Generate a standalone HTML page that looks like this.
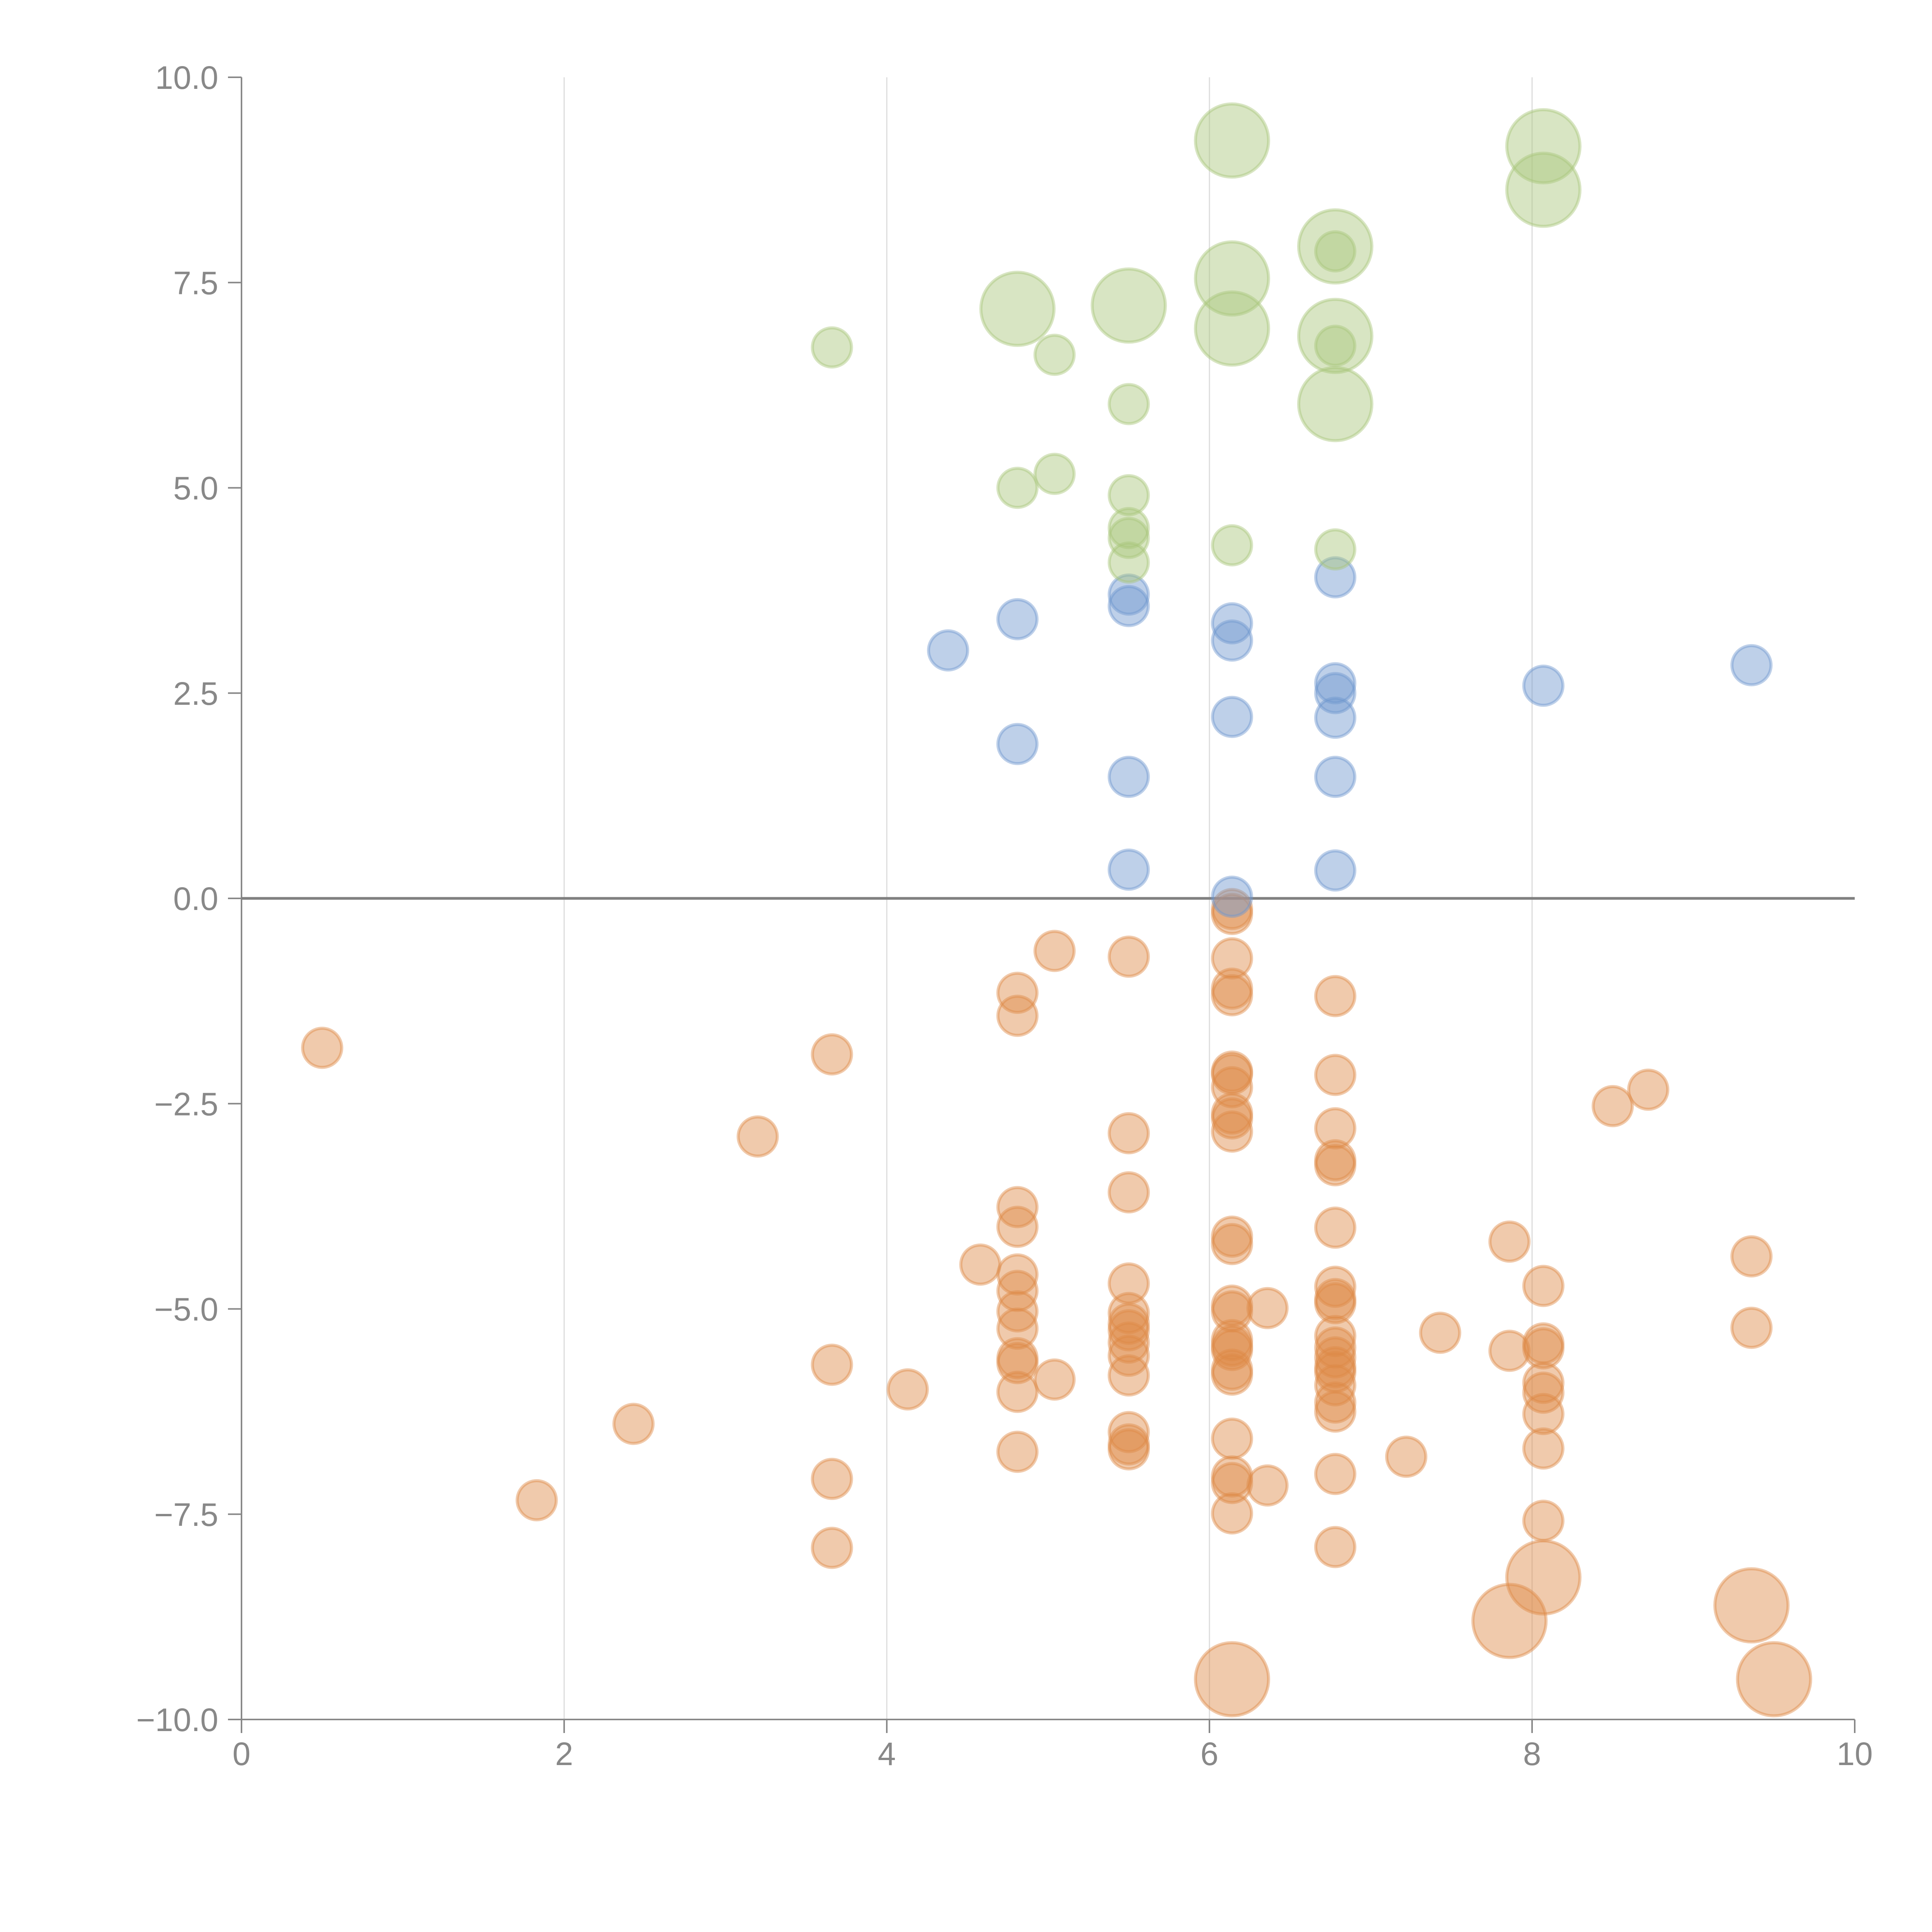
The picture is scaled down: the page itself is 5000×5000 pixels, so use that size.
<!DOCTYPE html>
<html><head><meta charset="utf-8">
<style>
html,body{margin:0;padding:0;background:#fff;}
svg{display:block;}
text{font-family:"Liberation Sans",Arial,sans-serif;fill:#888;font-size:84px;}
</style></head>
<body>
<svg id="chart" width="5000" height="5000" viewBox="0 0 5000 5000" xmlns="http://www.w3.org/2000/svg">
<g id="grid"></g>
<g id="axes"></g>
<g id="marks"></g>
</svg>
<script>
const xTicks=[0,2,4,6,8,10];
const xTickLabels=["0","2","4","6","8","10"];
const yTicks=[10,7.5,5,2.5,0,-2.5,-5,-7.5,-10];
const yTickLabels=["10.0","7.5","5.0","2.5","0.0","\u22122.5","\u22125.0","\u22127.5","\u221210.0"];

const greenX=[6.14,8.07,8.07,6.78,6.14,4.81,5.5,6.14,6.78,6.78,6.78,3.66,6.78,5.04,5.5,4.81,5.04,5.5,5.5,5.5,5.5,6.14,6.78];
const greenY=[9.23,9.16,8.63,7.94,7.55,7.18,7.22,6.94,6.85,6.02,7.88,6.71,6.73,6.62,6.02,5.0,5.17,4.91,4.51,4.39,4.09,4.30,4.25];
const greenS=[35,35,35,35,35,35,35,35,35,35,10,10,10,10,10,10,10,10,10,10,10,10,10];

const blueX=[6.78,5.5,5.5,4.81,6.14,6.14,4.38,9.36,8.07,6.78,6.78,6.14,6.78,4.81,5.5,6.78,5.5,6.78,6.14];
const blueY=[3.91,3.70,3.56,3.40,3.35,3.14,3.02,2.84,2.59,2.62,2.50,2.21,2.20,1.88,1.48,1.48,0.35,0.34,0.02];
const blueS=[10,10,10,10,10,10,10,10,10,10,10,10,10,10,10,10,10,10,10];

const orangeX=[6.14,6.14,5.04,5.5,6.14,4.81,6.14,6.14,6.78,4.81,0.5,3.66,6.14,6.14,6.78,6.14,8.72,8.5,6.14,6.14,6.78,5.5,6.14,3.2,6.78,6.78,5.5,4.81,4.81,6.78,6.14,6.14,7.86,9.36,4.58,4.81,5.5,8.07,6.78,4.81,6.78,6.78,6.14,6.36,6.14,4.81,5.5,5.5,9.36,4.81,5.5,7.43,6.78,6.14,5.5,6.14,8.07,8.07,6.78,6.14,7.86,6.78,5.5,4.81,4.81,3.66,6.78,6.14,6.78,6.14,5.5,5.04,8.07,4.13,6.78,8.07,4.81,6.78,6.78,8.07,2.43,5.5,6.14,8.07,5.5,5.5,4.81,7.22,6.78,6.14,3.66,6.14,6.36,1.83,6.14,8.07,3.66,6.78,8.07,7.86,9.36,6.14,9.5];
const orangeY=[-0.13,-0.19,-0.64,-0.71,-0.73,-1.15,-1.10,-1.18,-1.19,-1.43,-1.82,-1.90,-2.11,-2.14,-2.15,-2.30,-2.33,-2.53,-2.62,-2.68,-2.80,-2.86,-2.84,-2.90,-3.19,-3.25,-3.58,-3.76,-4.0,-4.01,-4.12,-4.21,-4.18,-4.36,-4.46,-4.58,-4.69,-4.72,-4.73,-4.78,-4.88,-4.93,-4.96,-4.99,-5.03,-5.03,-5.05,-5.18,-5.23,-5.24,-5.26,-5.29,-5.33,-5.38,-5.41,-5.45,-5.42,-5.48,-5.47,-5.50,-5.51,-5.59,-5.57,-5.60,-5.66,-5.68,-5.71,-5.74,-5.77,-5.80,-5.81,-5.86,-5.90,-5.98,-5.93,-6.02,-6.01,-6.14,-6.25,-6.28,-6.40,-6.50,-6.58,-6.70,-6.65,-6.71,-6.74,-6.80,-7.01,-7.04,-7.07,-7.12,-7.15,-7.33,-7.49,-7.58,-7.91,-7.90,-8.27,-8.80,-8.61,-9.51,-9.51];
const orangeS=[10,10,10,10,10,10,10,10,10,10,10,10,10,10,10,10,10,10,10,10,10,10,10,10,10,10,10,10,10,10,10,10,10,10,10,10,10,10,10,10,10,10,10,10,10,10,10,10,10,10,10,10,10,10,10,10,10,10,10,10,10,10,10,10,10,10,10,10,10,10,10,10,10,10,10,10,10,10,10,10,10,10,10,10,10,10,10,10,10,10,10,10,10,10,10,10,10,10,35,35,35,35,35];

const X0=625,X1=4800,Y0=200,Y1=4450;
function sx(v){return X0+(v-0)/(10-0)*(X1-X0);}
function sy(v){return Y0+(10-v)/(20)*(Y1-Y0);}
function sr(s){return 16*Math.sqrt(s);}
const NS="http://www.w3.org/2000/svg";
function mk(tag,attrs,parent){const e=document.createElementNS(NS,tag);for(const k in attrs)e.setAttribute(k,attrs[k]);parent.appendChild(e);return e;}

const grid=document.getElementById('grid');
const axes=document.getElementById('axes');
const marks=document.getElementById('marks');

xTicks.forEach((t,i)=>{
  if(t>0&&t<10){
    const g=mk('line',{x1:sx(t),x2:sx(t),y1:sy(10),y2:sy(-10),stroke:'#dcdcdc','stroke-width':3},grid);
    
    
  }
  const tk=mk('line',{x1:sx(t),x2:sx(t),y1:Y1,y2:Y1+35,stroke:'#888','stroke-width':4},axes);
  
  
  const lb=mk('text',{x:sx(t),y:Y1+118,'text-anchor':'middle'},axes);
  lb.textContent=xTickLabels[i];
  
  
});
yTicks.forEach((t,i)=>{
  const tk=mk('line',{x1:X0-35,x2:X0,y1:sy(t),y2:sy(t),stroke:'#888','stroke-width':4},axes);
  
  
  const lb=mk('text',{x:X0-60,y:sy(t)+30,'text-anchor':'end'},axes);
  lb.textContent=yTickLabels[i];
  
  
});
const ya=mk('line',{x1:X0,x2:X0,y1:Y0,y2:Y1,stroke:'#888','stroke-width':4},axes);


const xa=mk('line',{x1:X0,x2:X1,y1:Y1,y2:Y1,stroke:'#888','stroke-width':4},axes);



function series(xs,ys,ss,fill,stroke,name){
  const g=mk('g',{},marks);
  
  
  xs.forEach((v,i)=>{
    const c=mk('circle',{cx:sx(v),cy:sy(ys[i]),r:sr(ss[i]),fill:fill,'fill-opacity':0.45,stroke:stroke,'stroke-opacity':0.45,'stroke-width':8},g);
    
    
  });
}
series(orangeX,orangeY,orangeS,'#de8a46','#de8a46','orange');
series(blueX,blueY,blueS,'#6f96cf','#6f96cf','blue');
series(greenX,greenY,greenS,'#a9c67a','#a9c67a','green');

const zl=mk('line',{x1:X0,x2:X1,y1:sy(0),y2:sy(0),stroke:'#808080','stroke-width':7},axes);


</script>
</body></html>
